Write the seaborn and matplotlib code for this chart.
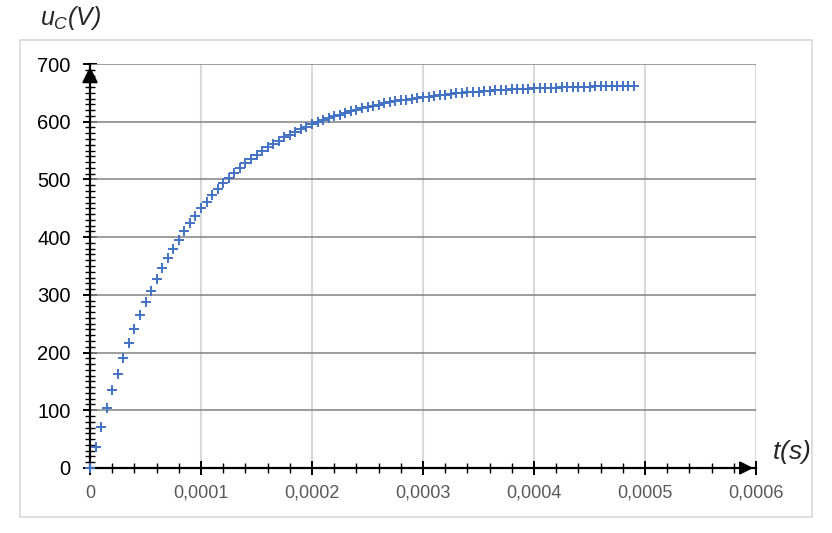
import numpy as np
import pandas as pd
import seaborn as sns
import matplotlib
matplotlib.use("Agg")
import matplotlib.pyplot as plt
from matplotlib.ticker import MultipleLocator, FuncFormatter
from matplotlib.patches import Rectangle

# time (s), step of 5 microseconds
t_s = [i * 5e-6 for i in range(99)]
# capacitor voltage (V)
u_c = [0, 36.5, 71.0, 103.6, 134.4, 163.5, 191.0, 217.0, 241.6, 264.8,
       286.8, 307.5, 327.2, 345.7, 363.2, 379.8, 395.4, 410.2, 424.2, 437.4,
       449.9, 461.7, 472.9, 483.4, 493.4, 502.8, 511.7, 520.1, 528.0, 535.6,
       542.7, 549.4, 555.7, 561.7, 567.4, 572.7, 577.8, 582.6, 587.1, 591.4,
       595.4, 599.2, 602.8, 606.3, 609.5, 612.5, 615.4, 618.1, 620.7, 623.1,
       625.4, 627.6, 629.6, 631.6, 633.4, 635.2, 636.8, 638.3, 639.8, 641.2,
       642.5, 643.7, 644.9, 646.0, 647.0, 648.0, 649.0, 649.8, 650.7, 651.5,
       652.2, 652.9, 653.6, 654.2, 654.8, 655.3, 655.9, 656.4, 656.8, 657.3,
       657.7, 658.1, 658.5, 658.9, 659.2, 659.5, 659.8, 660.1, 660.4, 660.6,
       660.9, 661.1, 661.3, 661.5, 661.7, 661.9, 662.0, 662.2, 662.4]

df = pd.DataFrame({"t": t_s, "u": u_c})

sns.set_style("white")
plt.rcParams["font.family"] = ["Liberation Sans", "DejaVu Sans"]
plt.rcParams["mathtext.fontset"] = "custom"
plt.rcParams["mathtext.it"] = "Liberation Sans:italic"
plt.rcParams["mathtext.rm"] = "Liberation Sans:italic"

fig = plt.figure(figsize=(8.32, 5.33), dpi=100)
ax = fig.add_axes([0.1082, 0.1220, 0.8005, 0.7579])

# outer light frame
fig.patches.append(Rectangle((20 / 832, 1 - 517 / 533), 792 / 832, 477 / 533,
                             transform=fig.transFigure, fill=False,
                             edgecolor="#d9d9d9", linewidth=1.2, zorder=0))

sns.scatterplot(data=df, x="t", y="u", marker="+", s=60, color="#4472C4",
                linewidth=1.4, ax=ax, zorder=3, clip_on=False)

ax.set_xlim(0, 0.0006)
ax.set_ylim(0, 700)
ax.xaxis.set_major_locator(MultipleLocator(0.0001))
ax.xaxis.set_minor_locator(MultipleLocator(0.00002))
ax.yaxis.set_major_locator(MultipleLocator(100))
ax.yaxis.set_minor_locator(MultipleLocator(10))

def fmt_x(v, pos):
    if abs(v) < 1e-12:
        return "0"
    return f"{v:.4f}".replace(".", ",")

ax.xaxis.set_major_formatter(FuncFormatter(fmt_x))

ax.grid(False)
for y in range(100, 701, 100):
    ax.axhline(y, color="#8c8c8c", linewidth=1.2, zorder=1)
for x in np.arange(1, 7) * 0.0001:
    ax.axvline(x, color="#d9d9d9", linewidth=1.5, zorder=0.5)

for s in ["top", "right"]:
    ax.spines[s].set_visible(False)
for s in ["left", "bottom"]:
    ax.spines[s].set_color("black")
    ax.spines[s].set_linewidth(1.6)
    ax.spines[s].set_zorder(2)

ax.tick_params(axis="both", which="both", bottom=True, left=True,
               top=False, right=False)
ax.tick_params(axis="both", which="major", direction="inout", length=10,
               width=1.4, color="black")
ax.tick_params(axis="both", which="minor", direction="inout", length=6.5,
               width=1.0, color="black")
ax.tick_params(axis="y", which="major", labelsize=14.5, labelcolor="black", pad=9)
ax.tick_params(axis="x", which="major", labelsize=13, labelcolor="#595959", pad=7)
ax.set_xlabel("")
ax.set_ylabel("")

# axis arrows
ax.annotate("", xy=(0, 1.0), xytext=(0, 0.96), xycoords="axes fraction",
            arrowprops=dict(arrowstyle="-|>", color="black", lw=1.4,
                            mutation_scale=24), zorder=5)
ax.annotate("", xy=(1.0, 0), xytext=(0.97, 0), xycoords="axes fraction",
            arrowprops=dict(arrowstyle="-|>", color="black", lw=1.4,
                            mutation_scale=20), zorder=5)

fig.text(40 / 832, 1 - 18 / 533, r"$u_C(V)$", fontsize=18, va="center", ha="left")
fig.text(772 / 832, 1 - 452 / 533, r"$t(s)$", fontsize=19, va="center", ha="left")

fig.savefig("out.png", dpi=100)
